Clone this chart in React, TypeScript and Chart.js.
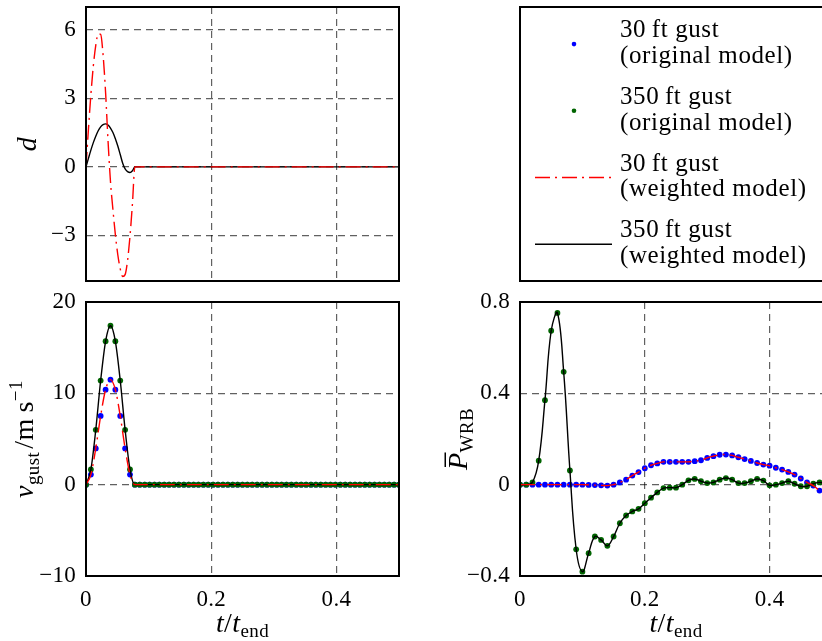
import React, { useEffect, useRef } from 'react';
import { Chart, registerables } from 'chart.js';

Chart.register(...registerables);

const FAMILY = "'Liberation Serif', 'Times New Roman', serif";
const MI = `italic 28px ${FAMILY}`;
const RM = `28px ${FAMILY}`;
const SUB = `19px ${FAMILY}`;

const BLUE = '#0000ff';
const GREEN = '#006400';
const RED = '#ff0000';
const BLACK = '#000000';
const GRID_COLOR = 'rgba(0,0,0,0.62)';
const GRID_DASH = [7, 5];
const DASHDOT = [15, 5, 2, 5];

// ---------- tick values ----------
const X_TICKS = [0, 0.2, 0.4];
const D_TICKS = [-3, 0, 3, 6];
const V_TICKS = [-10, 0, 10, 20];
const P_TICKS = [-0.4, 0, 0.4, 0.8];

// ---------- top-left: d (weighted model) ----------
const D_T = [0, 0.0039, 0.0078, 0.0117, 0.0156, 0.0195, 0.0234, 0.0273, 0.0313, 0.0352, 0.0391,
  0.043, 0.0469, 0.0508, 0.0547, 0.0586, 0.0625, 0.0664, 0.0703, 0.0742, 0.0781, 0.5];
const D_30 = [0, 1.65, 3.16, 4.42, 5.32, 5.82, 5.8, 4.9, 3.25, 1.14, -0.64,
  -1.87, -2.97, -3.85, -4.47, -4.8, -4.72, -4.1, -3.03, -1.61, 0, 0];
const D_350 = [0, 0.37, 0.73, 1.06, 1.34, 1.58, 1.75, 1.85, 1.88, 1.83, 1.7,
  1.5, 1.23, 0.91, 0.54, 0.16, -0.09, -0.21, -0.25, -0.17, 0, 0];

// ---------- bottom-left: gust velocity ----------
const V_T = [0, 0.0078, 0.0156, 0.0234, 0.0313, 0.0391, 0.0469, 0.0547, 0.0625, 0.0703,
  0.0781, 0.0859, 0.0938, 0.1016, 0.1094, 0.1172, 0.125, 0.1328, 0.1406, 0.1484,
  0.1563, 0.1641, 0.1719, 0.1797, 0.1875, 0.1953, 0.2031, 0.2109, 0.2188, 0.2266,
  0.2344, 0.2422, 0.25, 0.2578, 0.2656, 0.2734, 0.2813, 0.2891, 0.2969, 0.3047,
  0.3125, 0.3203, 0.3281, 0.3359, 0.3438, 0.3516, 0.3594, 0.3672, 0.375, 0.3828,
  0.3906, 0.3984, 0.4063, 0.4141, 0.4219, 0.4297, 0.4375, 0.4453, 0.4531, 0.4609,
  0.4688, 0.4766, 0.4844, 0.4922, 0.5];
const V_30 = [0, 1.1, 3.97, 7.53, 10.4, 11.5, 10.4, 7.53, 3.97, 1.1,
  0, 0, 0, 0, 0, 0, 0, 0, 0, 0,
  0, 0, 0, 0, 0, 0, 0, 0, 0, 0,
  0, 0, 0, 0, 0, 0, 0, 0, 0, 0,
  0, 0, 0, 0, 0, 0, 0, 0, 0, 0,
  0, 0, 0, 0, 0, 0, 0, 0, 0, 0,
  0, 0, 0, 0, 0];
const V_350 = [0, 1.66, 6.0, 11.4, 15.7, 17.4, 15.7, 11.4, 6.0, 1.66,
  0, 0, 0, 0, 0, 0, 0, 0, 0, 0,
  0, 0, 0, 0, 0, 0, 0, 0, 0, 0,
  0, 0, 0, 0, 0, 0, 0, 0, 0, 0,
  0, 0, 0, 0, 0, 0, 0, 0, 0, 0,
  0, 0, 0, 0, 0, 0, 0, 0, 0, 0,
  0, 0, 0, 0, 0];

// ---------- bottom-right: P_WRB ----------
const P_T = [0, 0.01, 0.02, 0.03, 0.04, 0.05, 0.06, 0.07, 0.08, 0.09,
  0.1, 0.11, 0.12, 0.13, 0.14, 0.15, 0.16, 0.17, 0.18, 0.19,
  0.2, 0.21, 0.22, 0.23, 0.24, 0.25, 0.26, 0.27, 0.28, 0.29,
  0.3, 0.31, 0.32, 0.33, 0.34, 0.35, 0.36, 0.37, 0.38, 0.39,
  0.4, 0.41, 0.42, 0.43, 0.44, 0.45, 0.46, 0.47, 0.48, 0.49, 0.5];
const P_30 = [0, 0, 0, 0, 0, 0, 0, 0, 0, 0,
  0, -0.001, -0.002, -0.003, -0.004, 0, 0.01, 0.022, 0.04, 0.055,
  0.072, 0.085, 0.093, 0.1, 0.1, 0.1, 0.1, 0.1, 0.103, 0.107,
  0.117, 0.125, 0.131, 0.132, 0.128, 0.12, 0.112, 0.104, 0.095, 0.088,
  0.083, 0.074, 0.066, 0.056, 0.044, 0.027, 0.01, -0.004, -0.026, -0.04, -0.05];
const P_350 = [0, 0, 0.01, 0.105, 0.37, 0.674, 0.752, 0.494, 0.062, -0.283,
  -0.381, -0.3, -0.227, -0.242, -0.268, -0.227, -0.169, -0.135, -0.117, -0.106,
  -0.081, -0.057, -0.034, -0.015, -0.013, -0.013, 0, 0.019, 0.025, 0.015,
  0.007, 0.01, 0.022, 0.029, 0.022, 0.007, 0.007, 0.015, 0.025, 0.018,
  -0.003, 0, 0.007, 0.015, 0.004, -0.007, -0.007, 0.004, 0.01, 0.005, 0];

// ---------- legend ----------
const LEGEND_LABELS = [
  ['30\u2009ft gust', '(original model)'],
  ['350\u2009ft gust', '(original model)'],
  ['30\u2009ft gust', '(weighted model)'],
  ['350\u2009ft gust', '(weighted model)'],
];

type Seg = { t: string; f: string; dy?: number; bar?: boolean; gap?: number };

const X_TITLE: Seg[] = [
  { t: 't', f: MI }, { t: '/', f: RM }, { t: 't', f: MI }, { t: 'end', f: SUB, dy: 5 },
];
const D_TITLE: Seg[] = [{ t: 'd', f: MI }];
const V_TITLE: Seg[] = [
  { t: 'v', f: MI }, { t: 'gust', f: SUB, dy: 6, gap: 3 }, { t: '/', f: RM },
  { t: 'm\u2009s', f: RM }, { t: '\u22121', f: SUB, dy: -11 },
];
const P_TITLE: Seg[] = [{ t: 'P', f: MI, bar: true }, { t: 'WRB', f: SUB, dy: 6 }];

function fmt(v: number): string {
  if (Math.abs(v) < 1e-9) return '0';
  return (v < 0 ? '\u2212' : '') + String(Math.abs(v));
}

function drawRich(ctx: CanvasRenderingContext2D, segs: Seg[], x: number, y: number, vertical: boolean) {
  ctx.save();
  ctx.translate(x, y);
  if (vertical) ctx.rotate(-Math.PI / 2);
  ctx.fillStyle = '#000';
  ctx.textAlign = 'left';
  ctx.textBaseline = 'alphabetic';
  (ctx as any).letterSpacing = '0.4px';
  const ws = segs.map((s) => {
    ctx.font = s.f;
    return ctx.measureText(s.t).width + (s.gap || 0);
  });
  let cx = -ws.reduce((a, b) => a + b, 0) / 2;
  segs.forEach((s, i) => {
    ctx.font = s.f;
    ctx.fillText(s.t, cx, s.dy || 0);
    if (s.bar) ctx.fillRect(cx + 3, -22.5, ws[i] - 3, 1.5);
    cx += ws[i];
  });
  ctx.restore();
}

function xy(ts: number[], vs: number[]) {
  return ts.map((t, i) => ({ x: t, y: vs[i] }));
}

function xScale(height: number, labels: boolean) {
  return {
    type: 'linear',
    min: 0,
    max: 0.5,
    afterBuildTicks: (s: any) => { s.ticks = X_TICKS.map((v) => ({ value: v })); },
    afterFit: (s: any) => { s.height = height; s.paddingLeft = 0; s.paddingRight = 0; },
    grid: { color: GRID_COLOR, lineWidth: 1.2, drawTicks: false },
    border: { display: false, dash: GRID_DASH },
    ticks: {
      display: labels, autoSkip: false, maxRotation: 0, padding: 10, color: '#000',
      font: { family: FAMILY, size: 23 }, callback: (v: any) => fmt(Number(v)),
    },
  };
}

function yScale(min: number, max: number, ticks: number[], width: number) {
  return {
    type: 'linear',
    min,
    max,
    afterBuildTicks: (s: any) => { s.ticks = ticks.map((v) => ({ value: v })); },
    afterFit: (s: any) => { s.width = width; s.paddingTop = 0; s.paddingBottom = 0; },
    grid: { color: GRID_COLOR, lineWidth: 1.2, drawTicks: false },
    border: { display: false, dash: GRID_DASH },
    ticks: {
      autoSkip: false, padding: 10, color: '#000',
      font: { family: FAMILY, size: 23 }, callback: (v: any) => fmt(Number(v)),
    },
  };
}

function framePlugin(yTitle: Seg[], yOff: number, xTitle: Seg[] | null) {
  return {
    id: 'frameTitles',
    beforeDraw(chart: any) { (chart.ctx as any).letterSpacing = '0.3px'; },
    afterDraw(chart: any) {
      const { ctx, chartArea: a } = chart;
      ctx.save();
      ctx.setLineDash([]);
      ctx.lineWidth = 2;
      ctx.strokeStyle = '#000';
      ctx.strokeRect(a.left, a.top, a.right - a.left, a.bottom - a.top);
      ctx.restore();
      drawRich(ctx, yTitle, a.left - yOff, (a.top + a.bottom) / 2, true);
      if (xTitle) drawRich(ctx, xTitle, (a.left + a.right) / 2, a.bottom + 56, false);
    },
  };
}

const dots = (ts: number[], vs: number[], color: string, order: number) => ({
  data: xy(ts, vs), showLine: false, pointRadius: 2.9, pointBorderWidth: 0,
  pointBackgroundColor: color, borderColor: color, order,
});
const line = (ts: number[], vs: number[], color: string, dash: number[], order: number, mono: boolean) => ({
  data: xy(ts, vs), pointRadius: 0, borderWidth: 1.4, borderColor: color, borderDash: dash,
  fill: false, tension: 0.4, cubicInterpolationMode: mono ? 'monotone' : 'default', order,
});

function baseOptions(padTop: number, padRight: number, xs: any, ys: any) {
  return {
    responsive: false,
    animation: false,
    devicePixelRatio: 1,
    layout: { padding: { top: padTop, right: padRight, left: 0, bottom: 0 } },
    plugins: { legend: { display: false }, tooltip: { enabled: false } },
    events: [],
    scales: { x: xs, y: ys },
  };
}

export default function App() {
  const c1 = useRef<HTMLCanvasElement>(null);
  const c2 = useRef<HTMLCanvasElement>(null);
  const c3 = useRef<HTMLCanvasElement>(null);
  const c4 = useRef<HTMLCanvasElement>(null);

  useEffect(() => {
    const charts: Chart[] = [];
    charts.push(new Chart(c1.current!, {
      type: 'line',
      data: { datasets: [line(D_T, D_350, BLACK, [], 2, true), line(D_T, D_30, RED, DASHDOT, 1, true)] as any },
      options: baseOptions(7, 21, xScale(4, false), yScale(-5, 7, D_TICKS, 86)) as any,
      plugins: [framePlugin(D_TITLE, 50, null)],
    }));
    charts.push(new Chart(c2.current!, {
      type: 'line',
      data: {
        datasets: [
          dots(V_T, V_30, BLUE, 4), dots(V_T, V_350, GREEN, 3),
          line(V_T, V_350, BLACK, [], 2, true), line(V_T, V_30, RED, DASHDOT, 1, true),
        ] as any,
      },
      options: baseOptions(17, 21, xScale(65, true), yScale(-10, 20, V_TICKS, 86)) as any,
      plugins: [framePlugin(V_TITLE, 53, X_TITLE)],
    }));
    charts.push(new Chart(c3.current!, {
      type: 'line',
      data: {
        datasets: [
          dots(P_T, P_30, BLUE, 4), dots(P_T, P_350, GREEN, 3),
          line(P_T, P_350, BLACK, [], 2, false), line(P_T, P_30, RED, DASHDOT, 1, false),
        ] as any,
      },
      options: baseOptions(17, 18, xScale(65, true), yScale(-0.4, 0.8, P_TICKS, 100)) as any,
      plugins: [framePlugin(P_TITLE, 53, X_TITLE)],
    }));
    const legendItems = [
      { kind: 'dot', color: BLUE, dash: [] as number[] },
      { kind: 'dot', color: GREEN, dash: [] as number[] },
      { kind: 'line', color: RED, dash: DASHDOT },
      { kind: 'line', color: BLACK, dash: [] as number[] },
    ];
    charts.push(new Chart(c4.current!, {
      type: 'line',
      data: { datasets: [] },
      options: {
        responsive: false, animation: false, devicePixelRatio: 1, events: [],
        layout: { padding: { top: 7, right: 18, left: 100, bottom: 4 } },
        plugins: { legend: { display: false }, tooltip: { enabled: false } },
        scales: { x: { display: false }, y: { display: false } },
      } as any,
      plugins: [{
        id: 'legendBox',
        afterDraw(chart: any) {
          const { ctx, chartArea: a } = chart;
          ctx.save();
          ctx.lineWidth = 2;
          ctx.strokeStyle = '#000';
          ctx.strokeRect(a.left, a.top, a.right - a.left, a.bottom - a.top);
          (ctx as any).letterSpacing = '0.6px';
          ctx.font = `25px ${FAMILY}`;
          ctx.fillStyle = '#000';
          ctx.textAlign = 'left';
          ctx.textBaseline = 'alphabetic';
          legendItems.forEach((it, i) => {
            const b1 = a.top + 30.3 + i * 66.7;
            const my = b1 + 6.8;
            if (it.kind === 'dot') {
              ctx.beginPath();
              ctx.fillStyle = it.color;
              ctx.arc(a.left + 54, my, 2.3, 0, Math.PI * 2);
              ctx.fill();
            } else {
              ctx.beginPath();
              ctx.strokeStyle = it.color;
              ctx.lineWidth = 1.4;
              ctx.setLineDash(it.dash);
              ctx.moveTo(a.left + 15, my);
              ctx.lineTo(a.left + 92, my);
              ctx.stroke();
              ctx.setLineDash([]);
            }
            ctx.fillStyle = '#000';
            ctx.fillText(LEGEND_LABELS[i][0], a.left + 100, b1);
            ctx.fillText(LEGEND_LABELS[i][1], a.left + 100, b1 + 25.5);
          });
          ctx.restore();
        },
      }],
    }));
    return () => charts.forEach((c) => c.destroy());
  }, []);

  const abs = (l: number, t: number, w: number, h: number): React.CSSProperties => ({
    position: 'absolute', left: l, top: t, width: w, height: h,
  });

  return (
    <div style={{ position: 'fixed', left: 0, top: 0, width: 822, height: 641, overflow: 'hidden', background: '#fff' }}>
      <canvas ref={c1} width={420} height={285} style={abs(0, 0, 420, 285)} />
      <canvas ref={c2} width={420} height={356} style={abs(0, 285, 420, 356)} />
      <canvas ref={c3} width={430} height={356} style={abs(420, 285, 430, 356)} />
      <canvas ref={c4} width={430} height={285} style={abs(420, 0, 430, 285)} />
    </div>
  );
}
